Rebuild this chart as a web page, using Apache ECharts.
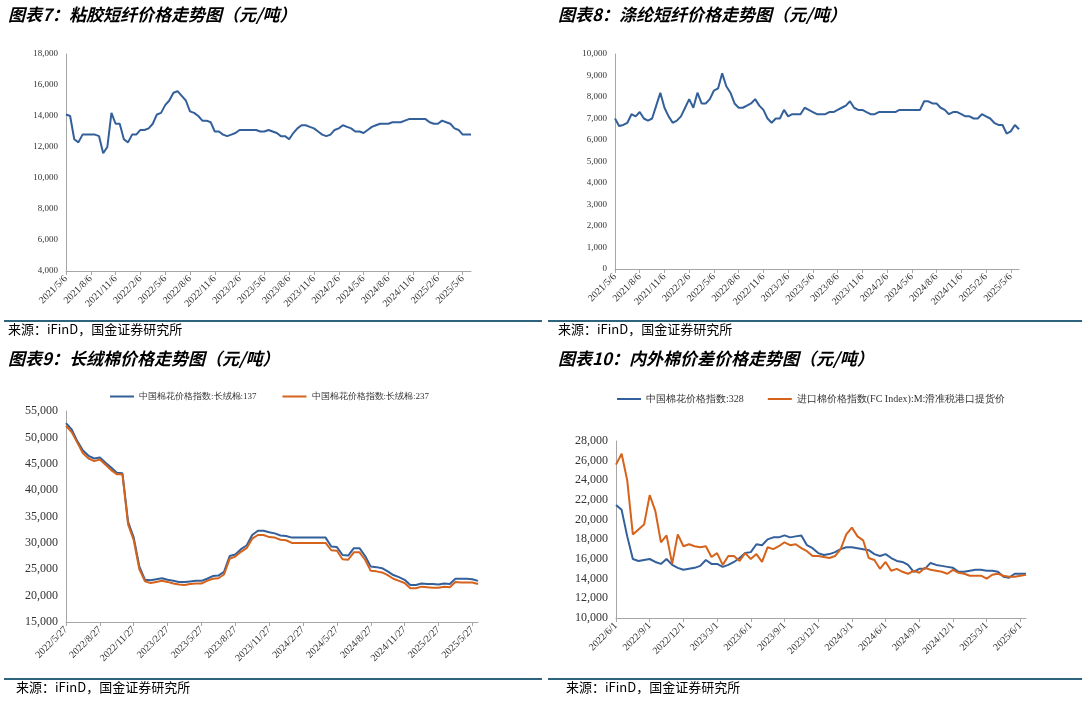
<!DOCTYPE html>
<html><head><meta charset="utf-8">
<script src="https://cdn.jsdelivr.net/npm/echarts@6/dist/echarts.min.js"></script>
<style>html,body{margin:0;padding:0;background:#fff}#c{width:1086px;height:702px}</style>
</head><body><div id="c"></div>
<script>
// ---- tick labels ----
const ticks7 = ['2021/5/6','2021/8/6','2021/11/6','2022/2/6','2022/5/6','2022/8/6','2022/11/6','2023/2/6','2023/5/6','2023/8/6','2023/11/6','2024/2/6','2024/5/6','2024/8/6','2024/11/6','2025/2/6','2025/5/6'];
const ticks9 = ['2022/5/27','2022/8/27','2022/11/27','2023/2/27','2023/5/27','2023/8/27','2023/11/27','2024/2/27','2024/5/27','2024/8/27','2024/11/27','2025/2/27','2025/5/27'];
const ticks10 = ['2022/6/1','2022/9/1','2022/12/1','2023/3/1','2023/6/1','2023/9/1','2023/12/1','2024/3/1','2024/6/1','2024/9/1','2024/12/1','2025/3/1','2025/6/1'];
// ---- series values (semi-monthly samples) ----
const viscose = [14100,14000,12500,12300,12800,12800, 12800,12800,12700,11600,12000,14200, 13500,13500,12500,12300,12800,12800,
 13100,13100,13200,13500,14100,14200, 14700,15000,15500,15600,15300,15000, 14300,14200,14000,13700,13700,13600,
 13000,13000,12800,12700,12800,12900, 13100,13100,13100,13100,13100,13000, 13000,13100,13000,12900,12700,12700,
 12500,12900,13200,13400,13400,13300, 13200,13000,12800,12700,12800,13100, 13200,13400,13300,13200,13000,13000,
 12900,13100,13300,13400,13500,13500, 13500,13600,13600,13600,13700,13800, 13800,13800,13800,13800,13600,13500,
 13500,13700,13600,13500,13200,13100, 12800,12800,12800];
const polyester = [7000,6650,6700,6800,7200,7100, 7300,7000,6900,7000,7600,8200, 7500,7100,6800,6900,7100,7500,
 7900,7500,8200,7700,7700,7900, 8300,8400,9100,8500,8200,7700, 7500,7500,7600,7700,7900,7600,
 7400,7000,6800,7000,7000,7400, 7100,7200,7200,7200,7500,7400, 7300,7200,7200,7200,7300,7300,
 7400,7500,7600,7800,7500,7400, 7400,7300,7200,7200,7300,7300, 7300,7300,7300,7400,7400,7400,
 7400,7400,7400,7800,7800,7700, 7700,7500,7400,7200,7300,7300, 7200,7100,7100,7000,7000,7200,
 7100,7000,6800,6700,6700,6300, 6400,6700,6500];
const long137 = [52700,51500,49300,47500,46500,46000, 46200,45200,44300,43300,43200,34000, 31000,25500,23000,22900,23100,23300,
 23000,22800,22600,22600,22700,22800, 22800,23200,23700,23800,24500,27500, 27800,28800,29500,31500,32300,32300,
 32000,31800,31400,31300,31000,31000, 31000,31000,31000,31000,31000,29300, 29200,27700,27600,29000,29000,27500,
 25500,25400,25200,24600,23900,23500, 23000,22000,22000,22300,22200,22200, 22100,22300,22200,23200,23200,23200,
 23100,22800];
const long237 = [52200,51000,49000,47000,46000,45500, 45800,44800,43800,43000,43000,33500, 30500,25000,22700,22400,22600,22800,
 22600,22300,22100,22000,22200,22300, 22300,22800,23200,23300,24000,27000, 27400,28300,29000,30800,31500,31500,
 31100,31000,30600,30500,30000,30000, 30000,30000,30000,30000,30000,28600, 28500,26900,26800,28200,28200,26800,
 24700,24600,24400,23900,23200,22800, 22400,21400,21400,21700,21600,21500, 21500,21700,21600,22600,22500,22500,
 22500,22200];
const cn328 = [21500,21000,18300,16000,15800,15900, 16000,15700,15500,16000,15400,15100, 14900,15000,15100,15300,15900,15500,
 15500,15200,15400,15700,16100,16600, 16700,17500,17400,18000,18200,18200, 18400,18200,18300,18400,17400,17100,
 16600,16400,16500,16700,17000,17200, 17200,17100,17000,16900,16500,16300, 16500,16100,15800,15700,15400,14700,
 15000,15000,15600,15400,15300,15200, 15100,14700,14700,14800,14900,14900, 14800,14800,14700,14200,14100,14500,
 14500,14500];
const fcIndex = [25600,26700,24000,18500,19000,19500, 22500,20900,17700,18400,15500,18500, 17300,17500,17300,17200,17300,16200,
 16600,15400,16300,16300,15800,16600, 16000,16500,15700,17200,17000,17300, 17700,17400,17500,17100,16800,16300,
 16300,16200,16100,16300,17000,18500, 19200,18300,17900,16100,15900,15000, 15700,14800,15000,14700,14500,14800,
 14600,15100,14900,14800,14700,14500, 14900,14600,14500,14300,14300,14300, 14000,14400,14500,14300,14200,14200,
 14300,14400];

function cats(ticks, n){const a=[];for(let i=0;i<n;i++){const q=Math.floor(i/6),j=i%6;a.push(j===0&&q<ticks.length?ticks[q]:'p'+i);}return a;}
const BLUE='#33609a', ORANGE='#d5631c';
const serif='Liberation Serif';
function xAx(gi,c){return {type:'category',gridIndex:gi,data:c,boundaryGap:false,
  axisLine:{lineStyle:{color:'#a6a6a6'}},axisTick:{interval:5,lineStyle:{color:'#a6a6a6'},length:4},
  axisLabel:{interval:5,rotate:45,fontSize:10,fontFamily:serif,color:'#333',margin:6,formatter:v=>v[0]==='p'?'':v}};}
function yAx(gi,min,max,iv,fs){return {type:'value',gridIndex:gi,min,max,interval:iv,
  axisLine:{show:true,lineStyle:{color:'#a6a6a6'}},axisTick:{show:false},splitLine:{show:false},
  axisLabel:{fontSize:fs,fontFamily:serif,color:'#333',margin:8,formatter:v=>v.toLocaleString('en-US')}};}
function ln(name,xi,data,color){return {type:'line',name,xAxisIndex:xi,yAxisIndex:xi,data,symbol:'none',lineStyle:{color,width:2},itemStyle:{color}};}
const c7=cats(ticks7,viscose.length), c9=cats(ticks9,long137.length), c10=cats(ticks10,cn328.length);
const titleStyle={fontSize:17,fontWeight:'bold',fontStyle:'italic',fill:'#000',fontFamily:'Noto Sans CJK SC'};
const srcStyle={fontSize:13,fill:'#000',fontFamily:'Noto Sans CJK SC'};
function bar(x,y,w){return {type:'rect',shape:{x,y,width:w,height:2},style:{fill:'#2f6480'}};}
const n137='中国棉花价格指数:长绒棉:137', n237='中国棉花价格指数:长绒棉:237';
const n328='中国棉花价格指数:328', nfc='进口棉价格指数(FC Index):M:滑准税港口提货价';
const chart=echarts.init(document.getElementById('c'));
chart.setOption({
  animation:false,
  grid:[{left:66,top:54,width:405,height:217},{left:615,top:54,width:404,height:215},
        {left:66,top:411,width:412,height:211},{left:616,top:441,width:410,height:177}],
  xAxis:[xAx(0,c7),xAx(1,c7),xAx(2,c9),xAx(3,c10)],
  yAxis:[yAx(0,4000,18000,2000,9),yAx(1,0,10000,1000,9),yAx(2,15000,55000,5000,12),yAx(3,10000,28000,2000,12)],
  legend:[{data:[n137,n237],left:105,top:387,itemWidth:24,itemHeight:2,itemGap:26,icon:'rect',textStyle:{fontSize:9,fontFamily:serif,color:'#333'}},
          {data:[n328,nfc],left:612,top:389,itemWidth:24,itemHeight:2,itemGap:24,icon:'rect',textStyle:{fontSize:10,fontFamily:serif,color:'#333'}}],
  series:[ln('粘胶',0,viscose,BLUE),ln('涤纶',1,polyester,BLUE),ln(n137,2,long137,BLUE),ln(n237,2,long237,ORANGE),
          ln(n328,3,cn328,BLUE),ln(nfc,3,fcIndex,ORANGE)],
  graphic:[
    {type:'text',left:8,top:6,style:Object.assign({text:'图表7：粘胶短纤价格走势图（元/吨）'},titleStyle)},
    {type:'text',left:558,top:6,style:Object.assign({text:'图表8：涤纶短纤价格走势图（元/吨）'},titleStyle)},
    {type:'text',left:8,top:350,style:Object.assign({text:'图表9：长绒棉价格走势图（元/吨）'},titleStyle)},
    {type:'text',left:558,top:350,style:Object.assign({text:'图表10：内外棉价差价格走势图（元/吨）'},titleStyle)},
    bar(4,320,538),bar(548,320,534),bar(4,678,538),bar(548,678,534),
    {type:'text',left:8,top:323,style:Object.assign({text:'来源：iFinD，国金证券研究所'},srcStyle)},
    {type:'text',left:558,top:323,style:Object.assign({text:'来源：iFinD，国金证券研究所'},srcStyle)},
    {type:'text',left:16,top:681,style:Object.assign({text:'来源：iFinD，国金证券研究所'},srcStyle)},
    {type:'text',left:566,top:681,style:Object.assign({text:'来源：iFinD，国金证券研究所'},srcStyle)}
  ]
});
</script></body></html>
